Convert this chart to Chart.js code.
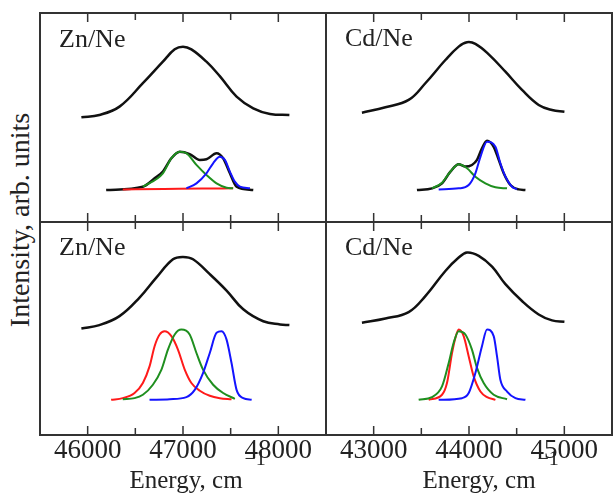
<!DOCTYPE html>
<html><head><meta charset="utf-8">
<script src="https://cdn.jsdelivr.net/npm/chart.js@4"></script>
<style>
html,body{margin:0;padding:0;background:#fff;}
body{width:613px;height:495px;position:relative;overflow:hidden;font-family:"Liberation Serif",serif;}
.pane{position:absolute;}
#ylab{position:absolute;left:20px;top:220px;transform:translate(-50%,-50%) rotate(-90deg);white-space:nowrap;font-size:28px;color:#222;font-family:"Liberation Serif",serif;}
</style></head><body>
<div class="pane" style="left:37px;top:10px;width:292px;height:215px"><canvas id="c1"></canvas></div>
<div class="pane" style="left:323px;top:10px;width:292px;height:215px"><canvas id="c2"></canvas></div>
<div class="pane" style="left:37px;top:219px;width:292px;height:276px"><canvas id="c3"></canvas></div>
<div class="pane" style="left:323px;top:219px;width:292px;height:276px"><canvas id="c4"></canvas></div>
<div id="ylab">Intensity, arb. units</div>
<script>
// ---- axis ranges and ticks ----
const znRange = [45500, 48500];
const cdRange = [42500, 45500];
const znTicks = [46000, 46500, 47000, 47500, 48000];
const cdTicks = [43000, 43500, 44000, 44500, 45000];
const znTickLabels = [46000, 47000, 48000];
const cdTickLabels = [43000, 44000, 45000];
const xTitle = "Energy, cm";
const xTitleSup = "\u22121";
const panelLabels = ["Zn/Ne", "Cd/Ne", "Zn/Ne", "Cd/Ne"];

// ---- top left: Zn/Ne ----
const znTopBroadE = [45934,46123,46334,46579,46789,46913,47000,47088,47246,47386,47562,47737,47913,48116];
const znTopBroadI = [50.1,51.2,55.2,66.4,76.7,82.6,83.9,82.6,76.7,69.8,60.0,54.4,51.7,51.2];
const znTopSumE = [46194,46579,46702,46789,46878,46965,47070,47176,47246,47352,47421,47492,47562,47737];
const znTopSumI = [15.3,16.9,20.9,24.1,30.5,33.6,32.5,29.7,30.0,32.9,30.5,23.3,16.9,15.3];
const znTopGreenE = [46579,46789,46878,46965,47036,47141,47246,47352,47457,47526];
const znTopGreenI = [16.9,23.3,30.5,33.6,32.9,27.3,22.5,18.5,16.4,16.1];
const znTopBlueE = [47036,47141,47246,47316,47386,47439,47492,47544,47597,47702];
const znTopBlueI = [16.1,18.5,23.3,28.1,31.2,29.7,24.1,19.3,16.9,16.1];
const znTopRedE = [46368,46800,47200,47526];
const znTopRedI = [15.6,15.8,16.0,16.1];

// ---- top right: Cd/Ne ----
const cdTopBroadE = [42877,43123,43367,43542,43752,43892,43979,44067,44207,44382,44556,44731,44871,45001];
const cdTopBroadI = [52.3,54.9,58.4,66.4,77.5,83.9,86.0,85.2,80.2,71.9,63.2,56.0,53.6,52.8];
const cdTopSumE = [43454,43612,43717,43805,43892,43962,44031,44084,44136,44189,44259,44312,44364,44434,44521,44592];
const cdTopSumI = [15.3,16.1,18.5,24.1,27.6,26.5,27.3,29.7,35.3,38.9,36.0,29.7,23.3,17.7,15.6,15.3];
const cdTopGreenE = [43612,43717,43805,43892,43979,44067,44172,44277,44399];
const cdTopGreenI = [16.1,18.8,24.1,27.6,25.7,21.7,18.5,16.6,16.1];
const cdTopBlueE = [43682,43892,43997,44067,44120,44189,44277,44329,44382,44451,44504];
const cdTopBlueI = [15.6,16.1,17.7,23.3,31.2,38.4,36.0,28.1,21.7,16.9,15.6];

// ---- bottom left: Zn/Ne ----
const znBotBroadE = [45934,46123,46334,46544,46720,46895,47000,47105,47281,47457,47632,47842,48018,48116];
const znBotBroadI = [50.0,51.6,55.8,64.5,73.9,82.5,83.6,82.5,75.5,67.8,59.0,53.4,51.9,51.6];
const znBotRedE = [46246,46368,46492,46579,46649,46702,46755,46807,46878,46947,47018,47088,47176,47281,47386,47509];
const znBotRedI = [16.5,17.3,19.7,24.4,32.2,41.7,47.2,48.7,46.4,40.1,30.7,24.4,20.8,18.4,17.3,16.8];
const znBotGreenE = [46368,46492,46579,46684,46774,46842,46913,46983,47070,47141,47210,47316,47421,47544];
const znBotGreenI = [16.8,17.3,18.9,23.6,30.7,40.1,47.2,49.5,47.2,38.5,30.7,23.6,19.7,17.0];
const znBotBlueE = [46649,46860,47036,47123,47210,47281,47352,47404,47457,47509,47562,47632,47720];
const znBotBlueI = [16.5,16.8,17.8,21.2,29.1,38.5,48.0,48.7,44.8,33.8,21.2,17.3,16.5];

// ---- bottom right: Cd/Ne ----
const cdBotBroadE = [42877,43123,43367,43542,43752,43892,43979,44102,44242,44382,44556,44731,44871,45001];
const cdBotBroadI = [52.7,54.7,57.7,65.2,77.0,83.3,85.7,84.1,79.0,70.8,62.9,56.6,53.8,53.2];
const cdBotRedE = [43577,43717,43769,43822,43857,43892,43944,43997,44049,44120,44189,44277];
const cdBotRedI = [16.5,18.9,24.4,38.5,45.6,49.5,46.4,36.9,27.5,20.4,17.8,16.5];
const cdBotGreenE = [43472,43612,43717,43787,43839,43892,43962,44031,44084,44154,44259,44399];
const cdBotGreenI = [16.5,17.8,22.8,33.8,43.3,48.7,47.2,40.1,31.5,24.4,18.9,16.8];
const cdBotBlueE = [43682,43927,43997,44067,44136,44189,44259,44294,44329,44399,44487,44592];
const cdBotBlueI = [16.5,17.3,19.7,29.1,41.7,49.5,46.4,36.9,25.9,20.4,17.3,16.5];

// ---- styles ----
const BLACK = '#111111', RED = '#ff1a1a', GREEN = '#1f8f1f', BLUE = '#1414ff';
const SERIF = '"Liberation Serif", "Times New Roman", serif';

function pts(E, I) { return E.map((e, i) => ({x: e, y: I[i]})); }
function ds(E, I, color, width, order) {
  return {data: pts(E, I), borderColor: color, borderWidth: width, pointRadius: 0,
          fill: false, cubicInterpolationMode: 'monotone', order: order};
}
function broad(E, I) {
  return {data: pts(E, I), borderColor: BLACK, borderWidth: 2.5, pointRadius: 0,
          fill: false, tension: 0.4, order: 1};
}

const panelPlugin = {
  id: 'panel',
  afterDraw(chart, args, o) {
    const ctx = chart.ctx, a = chart.chartArea, x = chart.scales.x;
    ctx.save();
    ctx.strokeStyle = '#333'; ctx.lineWidth = 2;
    ctx.strokeRect(a.left, a.top, a.right - a.left, a.bottom - a.top);
    ctx.lineWidth = 1.5;
    o.ticks.forEach(v => {
      const px = x.getPixelForValue(v);
      const len = (v % 1000 === 0) ? 9 : 7;
      ctx.beginPath();
      ctx.moveTo(px, a.top); ctx.lineTo(px, a.top + len);
      ctx.moveTo(px, a.bottom); ctx.lineTo(px, a.bottom - len);
      ctx.stroke();
    });
    ctx.fillStyle = '#222';
    ctx.font = '26px ' + SERIF;
    ctx.textBaseline = 'alphabetic'; ctx.textAlign = 'left';
    ctx.fillText(o.label, a.left + o.labelDx, a.top + o.labelDy);
    if (o.title) {
      ctx.font = '25px ' + SERIF;
      const w = ctx.measureText(xTitle).width;
      const cx = (a.left + a.right) / 2 + o.titleShift;
      const x0 = cx - w / 2;
      ctx.fillText(xTitle, x0, a.bottom + 53);
      ctx.font = '20px ' + SERIF;
      ctx.fillText(xTitleSup, x0 + w + 2, a.bottom + 30);
    }
    ctx.restore();
  }
};

function make(id, range, ticks, tickLabels, datasets, bottom, label, labelDy, titleShift) {
  const xScale = {
    type: 'linear', min: range[0], max: range[1],
    display: bottom,
    grid: {display: false, drawTicks: false},
    border: {display: false},
    afterBuildTicks: s => { s.ticks = tickLabels.map(v => ({value: v})); },
    ticks: {padding: 0, color: '#222', font: {family: SERIF, size: 27, lineHeight: 1.2},
            maxRotation: 0, callback: v => String(v)},
  };
  if (bottom) xScale.afterFit = s => { s.height = 60; };
  return new Chart(document.getElementById(id), {
    type: 'line',
    data: {datasets: datasets},
    options: {
      responsive: true, maintainAspectRatio: false, animation: false,
      layout: {padding: {left: 3, right: 3, top: 3, bottom: bottom ? 0 : 3}},
      scales: {
        x: xScale,
        y: {type: 'linear', min: 0, max: 100, display: false}
      },
      plugins: {
        legend: {display: false}, tooltip: {enabled: false},
        panel: {ticks: ticks, label: label, labelDx: 19, labelDy: labelDy,
                title: bottom, titleShift: titleShift}
      }
    },
    plugins: [panelPlugin]
  });
}

make('c1', znRange, znTicks, znTickLabels, [
  broad(znTopBroadE, znTopBroadI),
  ds(znTopSumE, znTopSumI, BLACK, 2.5, 10),
  ds(znTopRedE, znTopRedI, RED, 2, 5),
  ds(znTopGreenE, znTopGreenI, GREEN, 2, 4),
  ds(znTopBlueE, znTopBlueI, BLUE, 2, 3)
], false, panelLabels[0], 34, 0);

make('c2', cdRange, cdTicks, cdTickLabels, [
  broad(cdTopBroadE, cdTopBroadI),
  ds(cdTopSumE, cdTopSumI, BLACK, 2.5, 10),
  ds(cdTopGreenE, cdTopGreenI, GREEN, 2, 4),
  ds(cdTopBlueE, cdTopBlueI, BLUE, 2, 3)
], false, panelLabels[1], 33, 0);

make('c3', znRange, znTicks, znTickLabels, [
  broad(znBotBroadE, znBotBroadI),
  ds(znBotRedE, znBotRedI, RED, 2, 5),
  ds(znBotGreenE, znBotGreenI, GREEN, 2, 4),
  ds(znBotBlueE, znBotBlueI, BLUE, 2, 3)
], true, panelLabels[2], 33, 3);

make('c4', cdRange, cdTicks, cdTickLabels, [
  broad(cdBotBroadE, cdBotBroadI),
  ds(cdBotRedE, cdBotRedI, RED, 2, 5),
  ds(cdBotGreenE, cdBotGreenI, GREEN, 2, 4),
  ds(cdBotBlueE, cdBotBlueI, BLUE, 2, 3)
], true, panelLabels[3], 33, 10);
</script>
</body></html>
